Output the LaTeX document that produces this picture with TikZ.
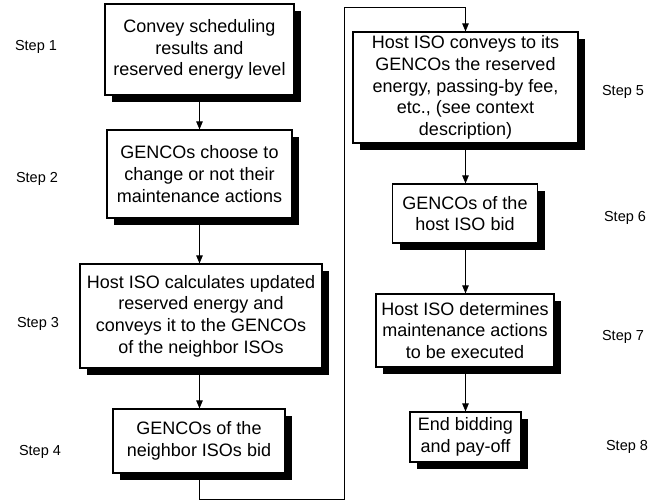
\documentclass[tikz,border=0pt]{standalone}
\usepackage{fontspec}
\setmainfont{Liberation Sans}
\usetikzlibrary{arrows.meta,shadows}
\begin{document}
\begin{tikzpicture}[x=1pt,y=-1pt,
  box/.style={draw=black, line width=1.2pt, fill=white, align=center,
    inner sep=0pt, font=\fontsize{18}{21.7}\selectfont,
    drop shadow={shadow xshift=7pt, shadow yshift=-7pt, fill=black, opacity=1}},
  steplabel/.style={font=\fontsize{14.5}{17}\selectfont, inner sep=0pt},
  conn/.style={draw=black, line width=0.9pt},
  arr/.style={conn, -{Triangle[length=8pt,width=6.5pt]}}]
\useasboundingbox (0,0) rectangle (666,501);

\node[box, minimum width=189pt, minimum height=91pt] (b1) at (199.5,49.5)
  {Convey scheduling\\results and\\reserved energy level};
\node[box, minimum width=185pt, minimum height=88pt] (b2) at (199.5,174)
  {GENCOs choose to\\change or not their\\maintenance actions};
\node[box, minimum width=242pt, minimum height=104pt] (b3) at (201,316)
  {Host ISO calculates updated\\reserved energy and\\conveys it to the GENCOs\\of the neighbor ISOs};
\node[box, minimum width=172pt, minimum height=64pt] (b4) at (199,441)
  {GENCOs of the\\neighbor ISOs bid};
\node[box, minimum width=225pt, minimum height=111pt] (b5) at (465.5,87.5)
  {Host ISO conveys to its\\GENCOs the reserved\\energy, passing-by fee,\\etc., (see context\\description)};
\node[box, minimum width=145pt, minimum height=59pt] (b6) at (465,213.5)
  {GENCOs of the\\host ISO bid};
\node[box, minimum width=178pt, minimum height=73pt] (b7) at (465,330.5)
  {Host ISO determines\\maintenance actions\\to be executed};
\node[box, minimum width=111pt, minimum height=50pt] (b8) at (465.5,437)
  {End bidding\\and pay-off};

\node[steplabel] (s1) at (36,47) {Step 1};
\node[steplabel] (s2) at (37,179) {Step 2};
\node[steplabel] (s3) at (38,324) {Step 3};
\node[steplabel] (s4) at (40,452) {Step 4};
\node[steplabel] (s5) at (623,92) {Step 5};
\node[steplabel] (s6) at (625,218) {Step 6};
\node[steplabel] (s7) at (623,337) {Step 7};
\node[steplabel] (s8) at (627,447) {Step 8};

\coordinate (c1) at (199,499.5);
\coordinate (c2) at (344,499.5);
\coordinate (c3) at (344,7);
\coordinate (c4) at (465.5,7);

\draw[arr] (b1.south) -- (b1.south |- b2.north);
\draw[arr] (b2.south) -- (b2.south |- b3.north);
\draw[arr] (b2.south |- b3.south) -- (b2.south |- b4.north);
\draw[arr] (b4.south -| c1) -- (c1) -- (c2) -- (c3) -- (c4) -- (b5.north);
\draw[arr] (b5.south) -- (b5.south |- b6.north);
\draw[arr] (b5.south |- b6.south) -- (b5.south |- b7.north);
\draw[arr] (b5.south |- b7.south) -- (b5.south |- b8.north);
\end{tikzpicture}
\end{document}
